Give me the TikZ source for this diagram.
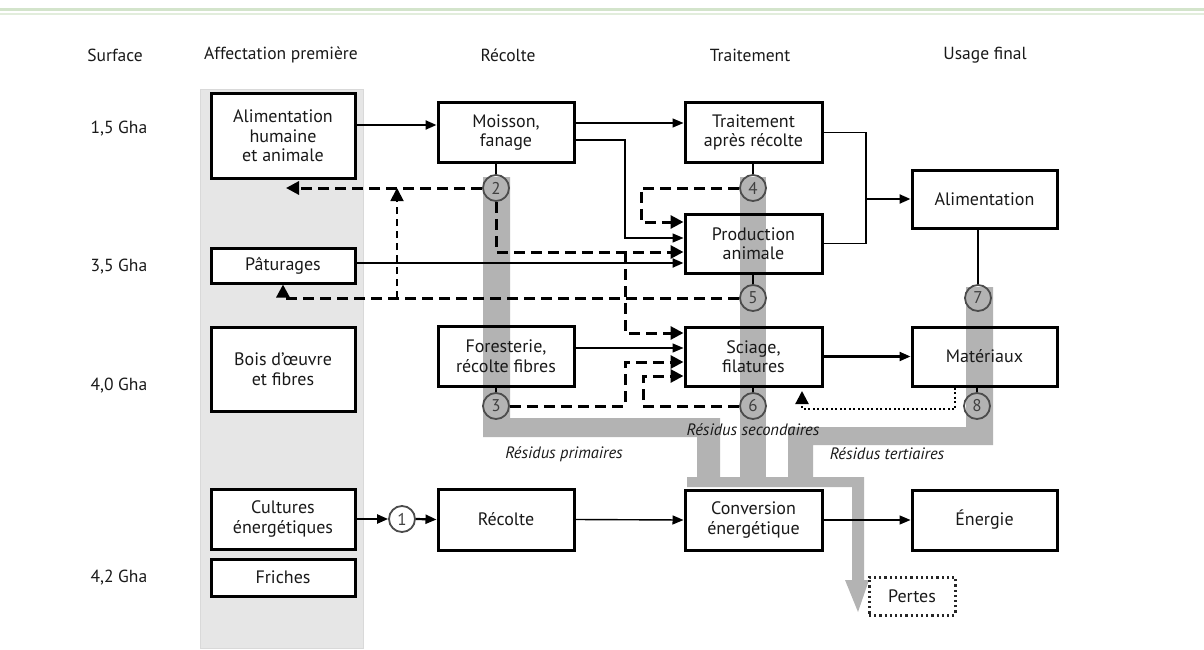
\documentclass[tikz,border=0pt]{standalone}
\usepackage{fontspec}
\setmainfont{PT Sans}
\usetikzlibrary{arrows.meta,calc}
\definecolor{bandgray}{HTML}{B3B3B3}
\definecolor{colgray}{HTML}{E6E6E6}
\definecolor{greenA}{HTML}{D3E4CB}
\definecolor{greenB}{HTML}{E2EDDC}
\begin{document}
\begin{tikzpicture}[x=1pt,y=-1pt]
\tikzset{
 bx/.style={draw, line width=3pt, inner sep=0pt, align=center, font=\fontsize{18}{19.5}\selectfont, text=black!90},
 wbx/.style={bx, fill=white},
 cnum/.style={circle, draw=black!70, line width=1.8pt, minimum size=26pt, inner sep=0pt, font=\fontsize{17}{17}\selectfont, text=black!75},
 thk/.style={line width=2.2pt, -{Triangle[length=11pt,width=9pt]}},
 thn/.style={line width=1.4pt, -{Triangle[length=11pt,width=9pt]}},
 plain/.style={line width=1.7pt},
 dsh/.style={line width=3pt, dash pattern=on 11pt off 6pt},
 dshthin/.style={line width=1.8pt, dash pattern=on 7pt off 5pt},
 dtip/.style={-{Triangle[length=13pt,width=13pt]}},
 dotl/.style={line width=2.2pt, dash pattern=on 2pt off 2.5pt},
 hdr/.style={font=\fontsize{17.5}{20}\selectfont, text=black!90},
 resid/.style={font=\itshape\fontsize{16.5}{18}\selectfont, text=black!90},
 band/.style={fill=bandgray, draw=none},
}
\useasboundingbox (0,0) rectangle (1204,650);
% top green rules
\fill[greenA] (0,8) rectangle (1204,11.5);
\fill[greenB] (0,13) rectangle (1204,15.5);
% column background
\filldraw[fill=colgray, draw=black!15, line width=1pt] (200,90) rectangle (363,648);
% headers
\node[hdr] (hS) at (115,55) {Surface};
\node[hdr] (hA) at (281,55) {Affectation première};
\node[hdr] (hR) at (508,55) {Récolte};
\node[hdr] (hT) at (750,55) {Traitement};
\node[hdr] (hU) at (985,55) {Usage final};
% surfaces
\node[hdr, anchor=west] (s1) at (87,129) {1,5 Gha};
\node[hdr, anchor=west] (s2) at (87,267) {3,5 Gha};
\node[hdr, anchor=west] (s3) at (87,386) {4,0 Gha};
\node[hdr, anchor=west] (s4) at (87,578) {4,2 Gha};
% residue bands
\path[band] (483,177) -- (510,177) -- (510,418) -- (720,418) -- (720,482) -- (697,482) -- (697,437) -- (483,437) -- cycle;
\path[band] (740,177) -- (766,177) -- (766,482) -- (740,482) -- cycle;
\path[band] (966,287) -- (993,287) -- (993,445) -- (813,445) -- (813,482) -- (788,482) -- (788,427) -- (966,427) -- cycle;
\path[band] (687,477) -- (864,477) -- (864,580) -- (869,580) -- (858,612) -- (845,580) -- (852,580) -- (852,487) -- (687,487) -- cycle;
% boxes
\node[wbx, minimum width=144pt, minimum height=84pt] (ahum) at (283,136) {Alimentation\\humaine\\et animale};
\node[wbx, minimum width=144pt, minimum height=35pt] (patur) at (283,265.5) {Pâturages};
\node[wbx, minimum width=144pt, minimum height=84pt] (bois) at (283,369) {Bois d’œuvre\\et fibres};
\node[wbx, minimum width=144pt, minimum height=60pt] (cult) at (283,519) {Cultures\\énergétiques};
\node[wbx, minimum width=144pt, minimum height=37pt] (fri) at (283,577.5) {Friches};
\node[bx, minimum width=136pt, minimum height=59pt] (mois) at (506,132.5) {Moisson,\\fanage};
\node[bx, minimum width=136pt, minimum height=60pt] (fore) at (506,356) {Foresterie,\\récolte fibres};
\node[bx, minimum width=136pt, minimum height=61pt] (rec) at (506,519.5) {Récolte};
\node[bx, minimum width=137pt, minimum height=59pt] (trait) at (753.5,132.5) {Traitement\\après récolte};
\node[bx, minimum width=137pt, minimum height=59pt] (prod) at (753.5,243.5) {Production\\animale};
\node[bx, minimum width=137pt, minimum height=59pt] (sci) at (753.5,356.5) {Sciage,\\filatures};
\node[bx, minimum width=137pt, minimum height=60pt] (conv) at (753.5,520) {Conversion\\énergétique};
\node[bx, minimum width=145pt, minimum height=58pt] (alim) at (984.5,199) {Alimentation};
\node[bx, minimum width=145pt, minimum height=59pt] (mat) at (984.5,356.5) {Matériaux};
\node[bx, minimum width=145pt, minimum height=60pt] (ener) at (984.5,520) {Énergie};
\node[bx, draw=black!85, dash pattern=on 2.2pt off 3pt, minimum width=86pt, minimum height=38pt] (pertes) at (912,596) {Pertes};
% circles
\node[cnum, fill=white] (c1) at (402,519) {1};
\node[cnum] (c2) at (496,188) {2};
\node[cnum] (c3) at (496,406) {3};
\node[cnum] (c4) at (753,188) {4};
\node[cnum] (c5) at (753,298) {5};
\node[cnum] (c6) at (753,406) {6};
\node[cnum] (c7) at (978,298) {7};
\node[cnum] (c8) at (977,406) {8};
% residue labels
\node[resid] (rp) at (564,454) {Résidus primaires};
\node[resid] (rs) at (753,430) {Résidus secondaires};
\node[resid] (rt) at (887,454) {Résidus tertiaires};
% coordinates
\coordinate (j1) at (625,140);
\coordinate (j2) at (866,199);
\coordinate (aArr) at (286,188);
\coordinate (v1) at (397,298);
\coordinate (v2) at (397,188);
\coordinate (k1) at (625,252);
\coordinate (k2) at (625,406);
\coordinate (k3) at (643,406);
\coordinate (k4) at (641,188);
\coordinate (d1) at (955,409);
\coordinate (dEnd) at (802,391);
% solid connectors
\draw[thk] ([yshift=11pt]ahum.east) -- ([yshift=7.5pt]mois.west);
\draw[thn] ([yshift=9.5pt]mois.east) -- ([yshift=9.5pt]trait.west);
\draw[thn] ([yshift=-7.5pt]mois.east) -- (j1) |- ([yshift=5.5pt]prod.west);
\draw[thk] ([yshift=2.5pt]patur.east) -- ([yshift=-19.5pt]prod.west);
\draw[plain] (trait.east) -| (j2) |- (prod.east);
\draw[thk] (j2) -- (alim.west);
\draw[line width=2.2pt] (c7.north) -- (c7 |- alim.south);
\draw[thn] ([yshift=8pt]fore.east) -- ([yshift=8.5pt]sci.west);
\draw[thk] (sci.east) -- (mat.west);
\draw[thk] (cult.east) -- (c1.west);
\draw[thk] (c1.east) -- (rec.west);
\draw[thn] (rec.east) -- (conv.west);
\draw[thn] (conv.east) -- (ener.west);
% circle stems
\draw[plain] (c2.north) -- (c2 |- mois.south);
\draw[plain] (c4.north) -- (c4 |- trait.south);
\draw[line width=2.2pt] (c5.north) -- (c5 |- prod.south);
\draw[plain] (c3.north) -- (c3 |- fore.south);
\draw[plain] (c6.north) -- (c6 |- sci.south);
\draw[plain] (c8.north) -- (c8 |- mat.south);
% dashed connectors
\draw[dsh, dtip] (c2.west) -- (aArr);
\draw[dsh, dtip] (c2.south) |- ([yshift=-8.5pt]prod.west);
\draw[dsh, dtip] (c5.west) -| (patur.south);
\draw[dshthin, dtip] (v1) -- (v2);
\draw[dsh, dtip] (c4.west) -- (k4) |- ([yshift=21.5pt]prod.west);
\draw[dsh, dtip] (k1) |- ([yshift=23.5pt]sci.west);
\draw[dsh, dtip] (c3.east) -- (k2) |- ([yshift=-5.5pt]sci.west);
\draw[dsh, dtip] (c6.west) -- (k3) |- ([yshift=-19.5pt]sci.west);
% dotted return
\draw[dotl, dtip] ([xshift=-29.5pt]mat.south) -- (d1) -| (dEnd);
\end{tikzpicture}
\end{document}
